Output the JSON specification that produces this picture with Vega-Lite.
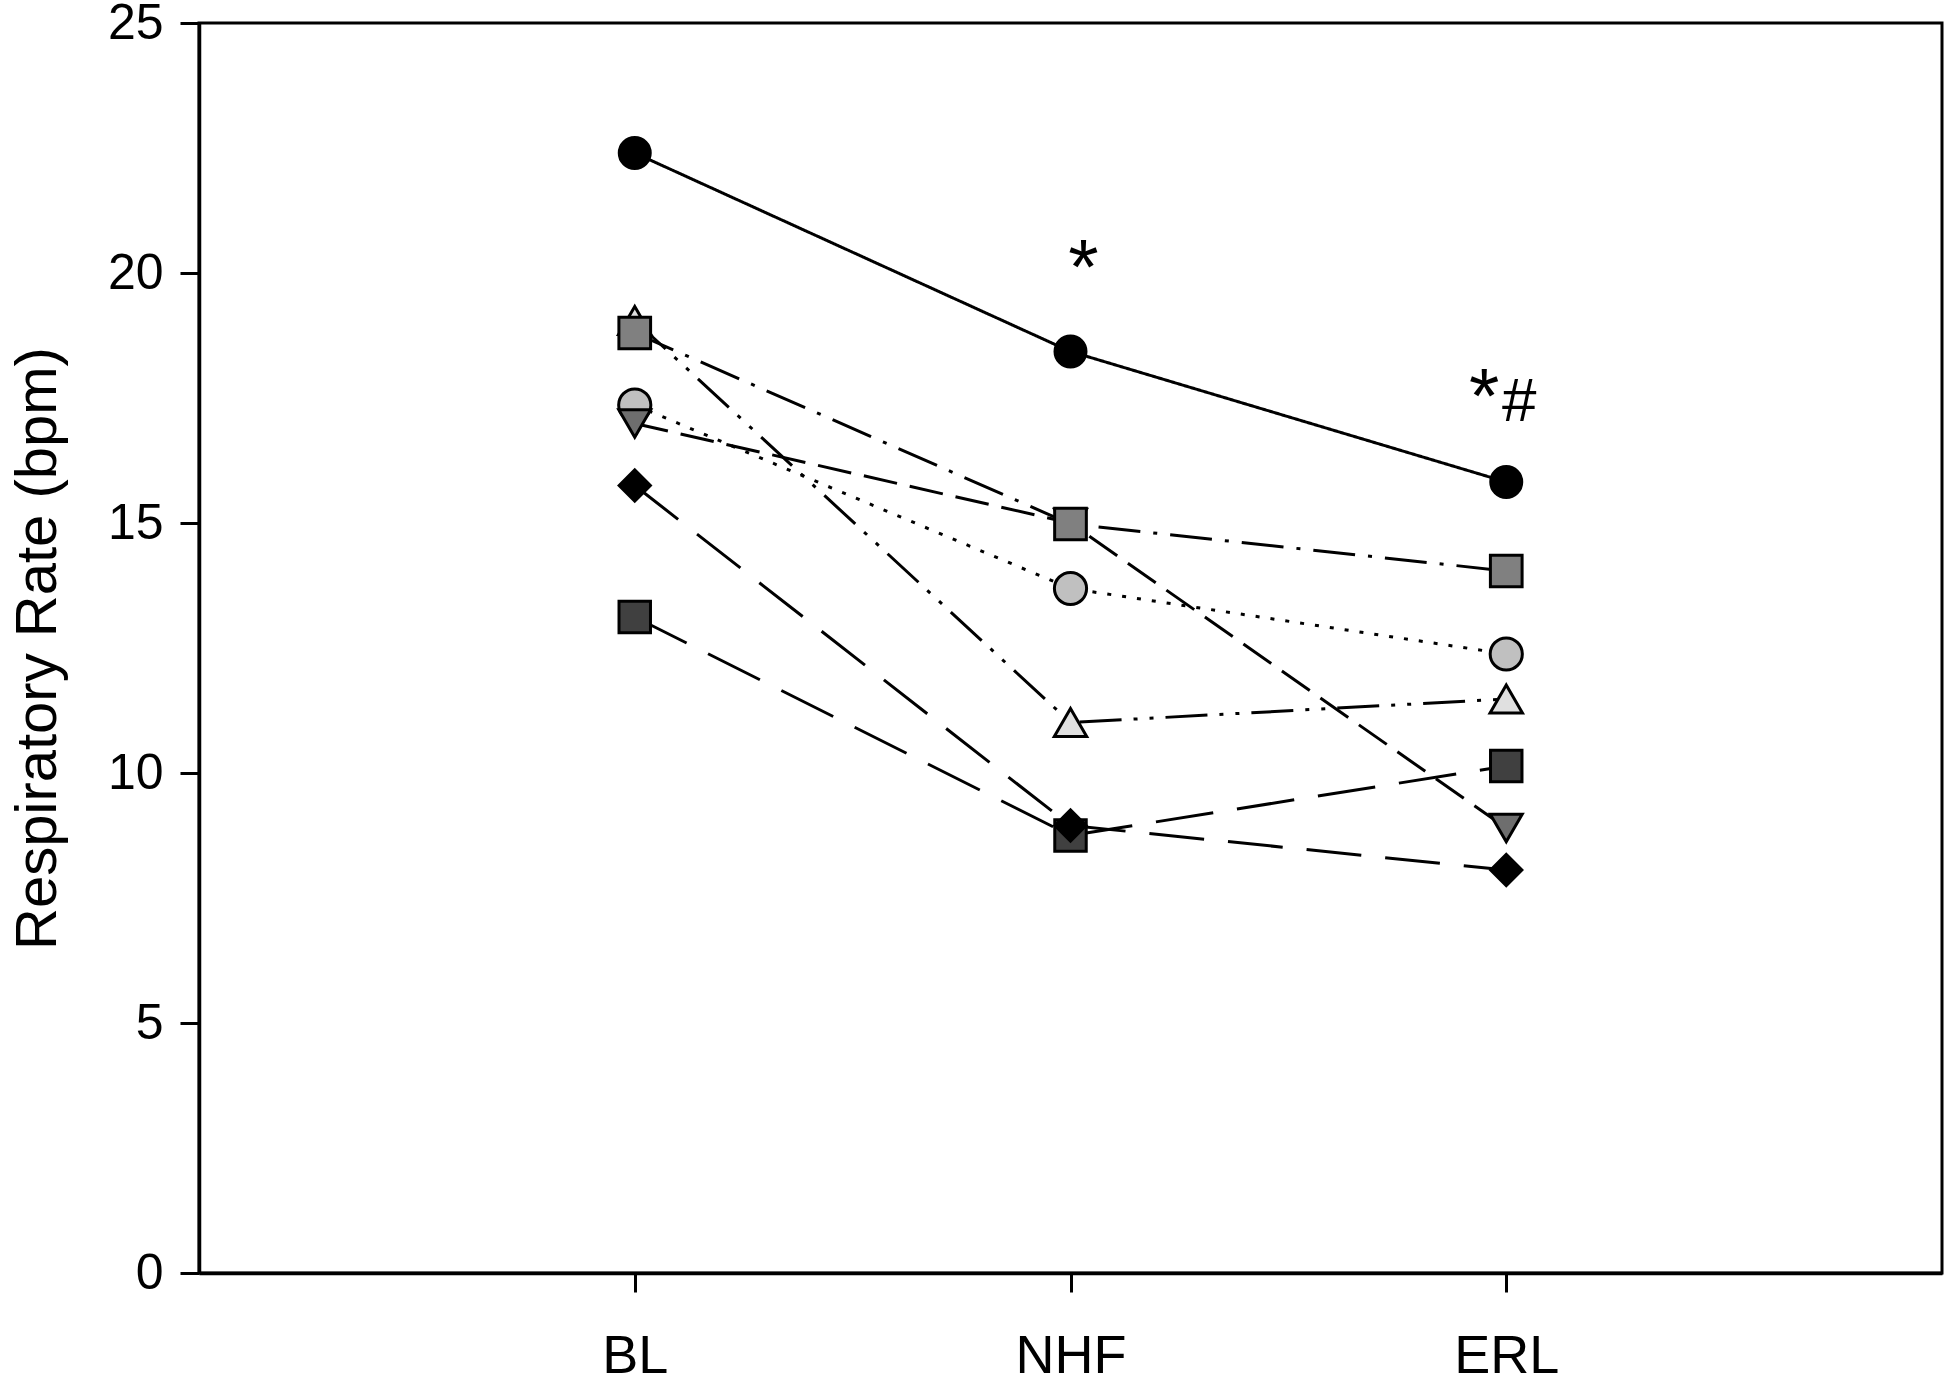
{
  "$schema": "https://vega.github.io/schema/vega-lite/v6.json",
  "width": 1743,
  "height": 1250,
  "autosize": {"type": "none"},
  "padding": {"left": 199, "top": 23, "right": 5, "bottom": 107},
  "background": "white",
  "datasets": {
    "rates": [
      {"subject": "A", "phase": "BL", "rate": 19.05},
      {"subject": "A", "phase": "NHF", "rate": 11.01},
      {"subject": "A", "phase": "ERL", "rate": 11.48},
      {"subject": "B", "phase": "BL", "rate": 17.36},
      {"subject": "B", "phase": "NHF", "rate": 13.69},
      {"subject": "B", "phase": "ERL", "rate": 12.38},
      {"subject": "C", "phase": "BL", "rate": 16.99},
      {"subject": "C", "phase": "NHF", "rate": 15.0},
      {"subject": "C", "phase": "ERL", "rate": 8.9},
      {"subject": "D", "phase": "BL", "rate": 18.8},
      {"subject": "D", "phase": "NHF", "rate": 14.98},
      {"subject": "D", "phase": "ERL", "rate": 14.04},
      {"subject": "E", "phase": "BL", "rate": 13.12},
      {"subject": "E", "phase": "NHF", "rate": 8.75},
      {"subject": "E", "phase": "ERL", "rate": 10.14},
      {"subject": "F", "phase": "BL", "rate": 15.75},
      {"subject": "F", "phase": "NHF", "rate": 8.95},
      {"subject": "F", "phase": "ERL", "rate": 8.06},
      {"subject": "G", "phase": "BL", "rate": 22.4},
      {"subject": "G", "phase": "NHF", "rate": 18.43},
      {"subject": "G", "phase": "ERL", "rate": 15.82}
    ],
    "notes": [
      {"id": "nhf_star", "phase": "NHF", "rate": 19.58, "label": "*"},
      {"id": "erl_star", "phase": "ERL", "rate": 17.0, "label": "*"},
      {"id": "erl_hash", "phase": "ERL", "rate": 17.05, "label": "#"}
    ]
  },
  "encoding": {
    "x": {
      "field": "phase",
      "type": "ordinal",
      "sort": ["BL", "NHF", "ERL"],
      "scale": {"type": "point", "padding": 1},
      "axis": {"title": null, "labelAngle": 0, "labelFontSize": 54, "labelPadding": 37}
    },
    "y": {
      "field": "rate",
      "type": "quantitative",
      "scale": {"domain": [0, 25], "nice": false, "zero": true},
      "axis": {
        "title": "Respiratory Rate (bpm)",
        "values": [0, 5, 10, 15, 20, 25],
        "labelFontSize": 50,
        "labelPadding": 17,
        "titleFontSize": 58,
        "titleFontWeight": "normal",
        "titlePadding": 40
      }
    }
  },
  "layer": [
    {
      "data": {"name": "rates"},
      "mark": {"type": "line", "color": "black", "strokeWidth": 3},
      "encoding": {
        "detail": {"field": "subject"},
        "strokeDash": {
          "field": "subject",
          "type": "nominal",
          "legend": null,
          "scale": {
            "domain": ["A", "B", "C", "D", "E", "F", "G"],
            "range": [[42, 12, 4, 12, 4, 12], [4, 11], [34, 13], [42, 13, 4, 13], [58, 24], [55, 24], [1, 0]]
          }
        }
      }
    },
    {
      "data": {"name": "rates"},
      "mark": {"type": "point", "filled": true, "stroke": "black", "strokeWidth": 3, "opacity": 1},
      "encoding": {
        "fill": {
          "field": "subject",
          "type": "nominal",
          "legend": null,
          "scale": {
            "domain": ["A", "B", "C", "D", "E", "F", "G"],
            "range": ["#e0e0e0", "#c0c0c0", "#6e6e6e", "#808080", "#404040", "#000000", "#000000"]
          }
        },
        "shape": {
          "field": "subject",
          "type": "nominal",
          "legend": null,
          "scale": {
            "domain": ["A", "B", "C", "D", "E", "F", "G"],
            "range": ["triangle-up", "circle", "triangle-down", "square", "square", "diamond", "circle"]
          }
        },
        "size": {
          "field": "subject",
          "type": "nominal",
          "legend": null,
          "scale": {
            "domain": ["A", "B", "C", "D", "E", "F", "G"],
            "range": [1050, 960, 1050, 840, 840, 1450, 1050]
          }
        }
      }
    },
    {
      "data": {"name": "notes"},
      "transform": [{"filter": "datum.id === 'nhf_star'"}],
      "mark": {"type": "text", "font": "Liberation Sans", "fontSize": 78, "baseline": "alphabetic", "align": "center", "dx": 13, "color": "black"},
      "encoding": {"text": {"field": "label"}}
    },
    {
      "data": {"name": "notes"},
      "transform": [{"filter": "datum.id === 'erl_star'"}],
      "mark": {"type": "text", "font": "Liberation Sans", "fontSize": 78, "baseline": "alphabetic", "align": "center", "dx": -22, "color": "black"},
      "encoding": {"text": {"field": "label"}}
    },
    {
      "data": {"name": "notes"},
      "transform": [{"filter": "datum.id === 'erl_hash'"}],
      "mark": {"type": "text", "font": "Liberation Sans", "fontSize": 62, "baseline": "alphabetic", "align": "center", "dx": 13, "color": "black"},
      "encoding": {"text": {"field": "label"}}
    }
  ],
  "config": {
    "view": {"stroke": "black", "strokeWidth": 3},
    "axis": {
      "grid": false,
      "domainColor": "black",
      "domainWidth": 3.5,
      "tickColor": "black",
      "tickWidth": 3,
      "tickSize": 19,
      "labelColor": "black",
      "titleColor": "black",
      "labelFont": "Liberation Sans",
      "titleFont": "Liberation Sans"
    }
  }
}
